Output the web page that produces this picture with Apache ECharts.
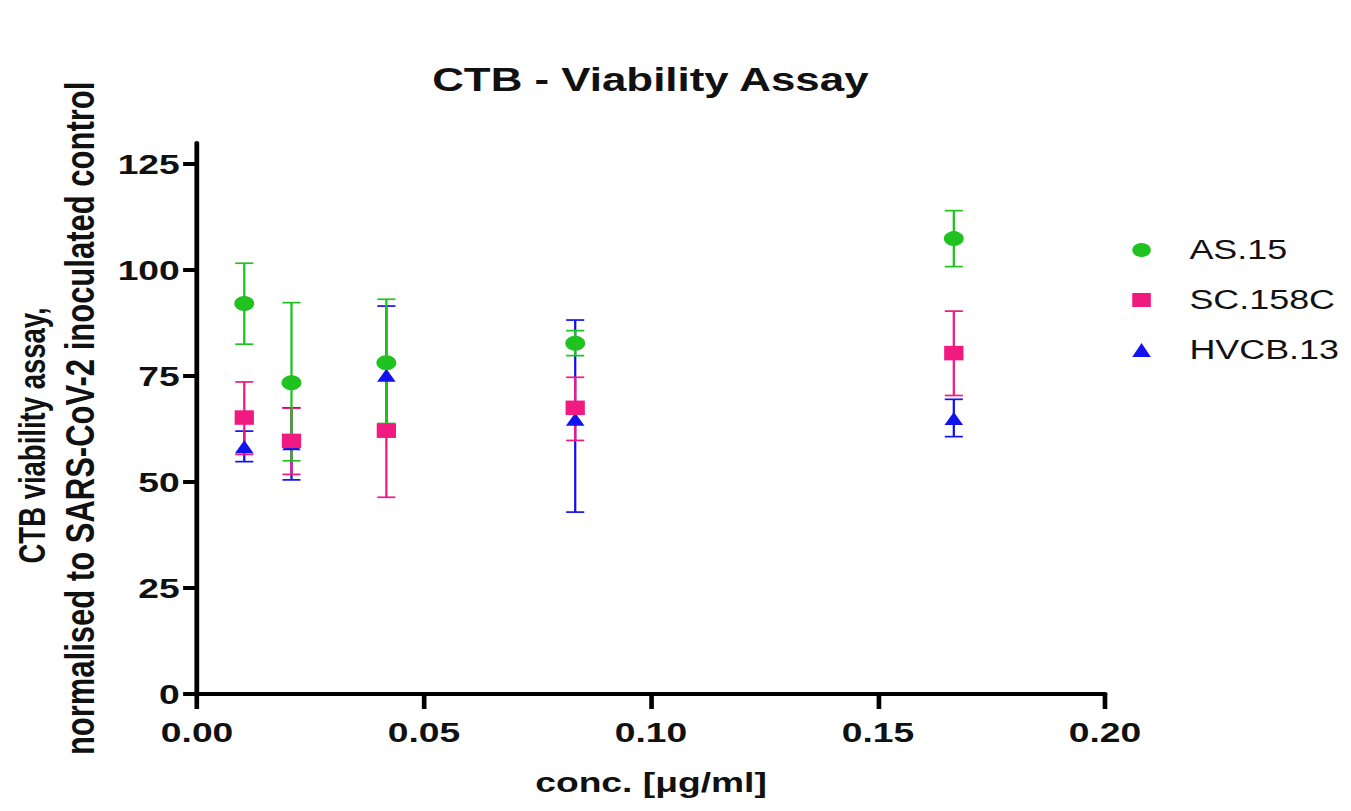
<!DOCTYPE html>
<html>
<head>
<meta charset="utf-8">
<script src="https://cdn.jsdelivr.net/npm/echarts@6/dist/echarts.min.js"></script>
<style>
  html, body { margin: 0; padding: 0; background: #ffffff; overflow: hidden; }
  #main { width: 1016px; height: 811px; transform: scaleX(1.3297); transform-origin: 0 0; }
</style>
</head>
<body>
<div id="main"></div>
<script>
// ---- data ----
const concentrations = [0.0104, 0.0208, 0.0417, 0.0833, 0.1667];

const as15Mean = [92.1, 73.4, 78.1, 82.7, 107.4];
const as15Low  = [82.5, 55.0, 63.8, 79.8, 100.8];
const as15High = [101.6, 92.3, 93.1, 85.7, 114.0];

const sc158cMean = [65.2, 59.7, 62.1, 67.5, 80.4];
const sc158cLow  = [56.5, 51.8, 46.4, 59.8, 70.4];
const sc158cHigh = [73.6, 67.4, 77.8, 74.7, 90.3];

const hvcb13Mean = [58.3, 59.0, 75.2, 64.8, 65.0];
const hvcb13Low  = [54.8, 50.5, 61.0, 42.9, 60.7];
const hvcb13High = [62.0, 67.5, 91.5, 88.2, 69.5];

const seriesNames = ['AS.15', 'SC.158C', 'HVCB.13'];
const yTickValues = [0, 25, 50, 75, 100, 125];
const xTickValues = [0, 0.05, 0.10, 0.15, 0.20];

// ---- helpers ----
const FONT = "'Liberation Sans', Arial, Helvetica, sans-serif";
const GREEN = '#1fc21f';
const PINK = '#f01a80';
const BLUE = '#1212ee';

function points(xs, ys) { return xs.map((x, i) => [x, ys[i]]); }
function bars(xs, lo, hi) { return xs.map((x, i) => [x, lo[i], hi[i]]); }

function errorRenderer(color) {
  return function (params, api) {
    const x = api.value(0);
    const pLo = api.coord([x, api.value(1)]);
    const pHi = api.coord([x, api.value(2)]);
    const hw = 6.8;
    const style = { stroke: color, lineWidth: 1.7, fill: null };
    return {
      type: 'group',
      children: [
        { type: 'line', shape: { x1: pLo[0], y1: pLo[1], x2: pHi[0], y2: pHi[1] }, style: style },
        { type: 'line', shape: { x1: pHi[0] - hw, y1: pHi[1], x2: pHi[0] + hw, y2: pHi[1] }, style: style },
        { type: 'line', shape: { x1: pLo[0] - hw, y1: pLo[1], x2: pLo[0] + hw, y2: pLo[1] }, style: style }
      ]
    };
  };
}

function errorSeries(name, color, lo, hi, z) {
  return {
    name: name,
    type: 'custom',
    renderItem: errorRenderer(color),
    data: bars(concentrations, lo, hi),
    encode: { x: 0, y: [1, 2] },
    z: z,
    silent: true
  };
}

const chart = echarts.init(document.getElementById('main'), null, { renderer: 'svg' });

const option = {
  backgroundColor: '#ffffff',
  animation: false,
  title: {
    text: 'CTB - Viability Assay',
    left: 320,
    top: 58,
    textStyle: { fontFamily: FONT, fontSize: 33, fontWeight: 'bold', color: '#111' }
  },
  legend: {
    data: seriesNames,
    orient: 'vertical',
    left: 846.5,
    top: 230,
    itemWidth: 14,
    itemHeight: 14,
    itemGap: 20,
    textStyle: {
      fontFamily: FONT, fontSize: 27, color: '#111',
      lineHeight: 30, padding: [0, 0, 0, 24]
    }
  },
  grid: { left: 148.2, right: 185, top: 142.8, bottom: 117, containLabel: false },
  xAxis: {
    type: 'value',
    min: 0,
    max: 0.2,
    interval: 0.05,
    name: 'conc. [μg/ml]',
    nameLocation: 'middle',
    nameGap: 74,
    nameTextStyle: { fontFamily: FONT, fontSize: 28, fontWeight: 'bold', color: '#111' },
    axisLine: { lineStyle: { color: '#000', width: 4 } },
    axisTick: { length: 15, lineStyle: { color: '#000', width: 3.5 }, customValues: xTickValues },
    axisLabel: {
      fontFamily: FONT, fontSize: 28, fontWeight: 'bold', color: '#111', margin: 24,
      customValues: xTickValues,
      formatter: v => v.toFixed(2)
    },
    splitLine: { show: false }
  },
  yAxis: {
    type: 'value',
    min: 0,
    max: 130,
    interval: 25,
    name: '{a|CTB viability assay,}\n{b|normalised to SARS-CoV-2 inoculated control}',
    nameLocation: 'middle',
    nameGap: 69,
    nameRotate: 90,
    nameTextStyle: {
      fontFamily: FONT, color: '#111',
      rich: {
        a: { fontFamily: FONT, fontSize: 27.5, fontWeight: 'bold', color: '#111', lineHeight: 34, padding: [0, 34, 0, 0] },
        b: { fontFamily: FONT, fontSize: 31, fontWeight: 'bold', color: '#111', lineHeight: 38 }
      }
    },
    axisLine: { lineStyle: { color: '#000', width: 3.6 } },
    axisTick: { length: 10.5, lineStyle: { color: '#000', width: 4 }, customValues: yTickValues },
    axisLabel: {
      fontFamily: FONT, fontSize: 28, fontWeight: 'bold', color: '#111', margin: 13,
      customValues: yTickValues
    },
    splitLine: { show: false }
  },
  series: [
    errorSeries('HVCB.13 SD', BLUE, hvcb13Low, hvcb13High, 2),
    errorSeries('SC.158C SD', PINK, sc158cLow, sc158cHigh, 3),
    errorSeries('AS.15 SD', GREEN, as15Low, as15High, 4),
    {
      name: 'HVCB.13', type: 'scatter', symbol: 'triangle', symbolSize: [14, 13],
      itemStyle: { color: BLUE, opacity: 1 }, data: points(concentrations, hvcb13Mean), z: 5
    },
    {
      name: 'SC.158C', type: 'scatter', symbol: 'rect', symbolSize: 14.5,
      itemStyle: { color: PINK, opacity: 1 }, data: points(concentrations, sc158cMean), z: 6
    },
    {
      name: 'AS.15', type: 'scatter', symbol: 'circle', symbolSize: 15,
      itemStyle: { color: GREEN, opacity: 1 }, data: points(concentrations, as15Mean), z: 7
    }
  ]
};

chart.setOption(option);
</script>
</body>
</html>
